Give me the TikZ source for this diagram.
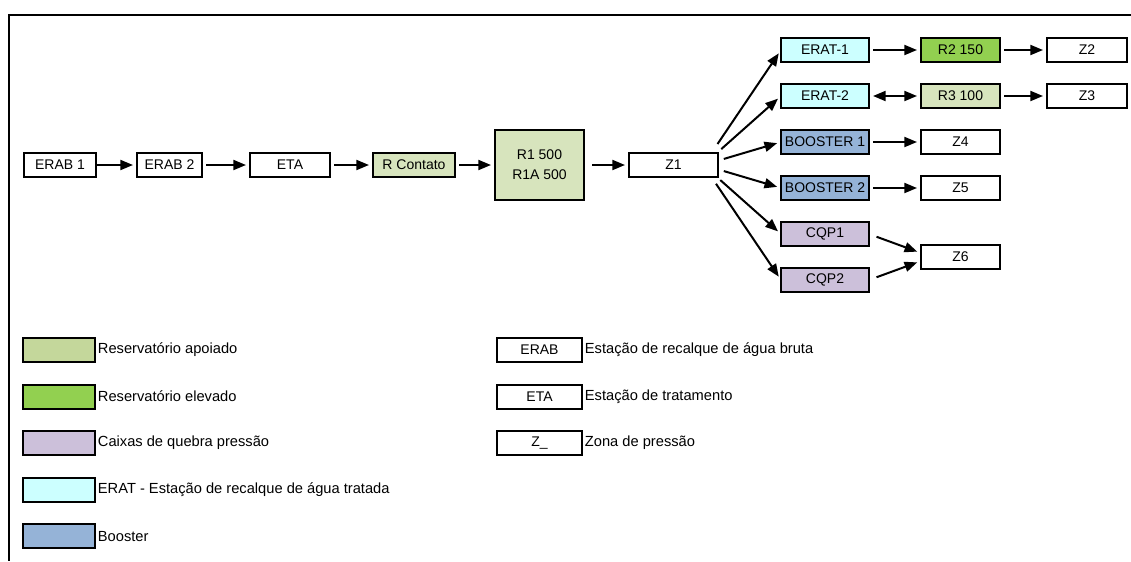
\documentclass[tikz,border=0pt]{standalone}
\usepackage{fontspec}
\setmainfont{Liberation Sans}
\usetikzlibrary{positioning, arrows.meta, calc}

\definecolor{apoiado}{HTML}{D7E4BD}
\definecolor{apoiadokey}{HTML}{C4D79B}
\definecolor{elevado}{HTML}{92D050}
\definecolor{caixa}{HTML}{CCC0DA}
\definecolor{erat}{HTML}{CCFFFF}
\definecolor{booster}{HTML}{95B3D7}

\begin{document}
\begin{tikzpicture}[
  x=0.75pt, y=-0.75pt,
  font=\fontsize{10.5}{15}\selectfont,
  >={Triangle[length=9.5pt, width=7.5pt]},
  unit/.style={draw, line width=1.5pt, align=center, inner sep=0pt, outer sep=0pt,
               minimum height=18pt, minimum width=60pt},
  flow/.style={->, line width=1.5pt, shorten <=3pt, shorten >=3pt},
  key/.style={draw, line width=1.5pt, inner sep=0pt, outer sep=0pt,
              minimum height=18pt, minimum width=54pt},
  keytext/.style={font=\fontsize{11}{13}\selectfont, inner sep=1pt}
]
\useasboundingbox (0,0) rectangle (1131,561);
\draw[line width=1pt] (1131,15) -- (9,15) -- (9,561);

\node[unit, minimum width=54pt] (erab1) at (60,165) {ERAB 1};
\node[unit, minimum width=48.75pt, right=30.75pt of erab1] (erab2) {ERAB 2};
\node[unit, right=36pt of erab2] (eta) {ETA};
\node[unit, fill=apoiado, minimum width=61.5pt, right=32.25pt of eta] (rcontato) {R Contato};
\node[unit, fill=apoiado, minimum width=66.75pt, minimum height=52.5pt, right=30pt of rcontato]
  (r1) {R1 500\\R1A 500};
\node[unit, minimum width=66.75pt, right=33.75pt of r1] (z1) {Z1};

\node[unit, fill=erat, minimum width=66pt] (erat1) at (825,50) {ERAT-1};
\node[unit, fill=erat, minimum width=66pt, below=16.5pt of erat1] (erat2) {ERAT-2};
\node[unit, fill=booster, minimum width=66pt, below=16.5pt of erat2] (booster1) {BOOSTER 1};
\node[unit, fill=booster, minimum width=66pt, below=16.5pt of booster1] (booster2) {BOOSTER 2};
\node[unit, fill=caixa, minimum width=66pt, below=16.5pt of booster2] (cqp1) {CQP1};
\node[unit, fill=caixa, minimum width=66pt, below=16.5pt of cqp1] (cqp2) {CQP2};

\node[unit, fill=elevado, minimum width=59.25pt, right=39pt of erat1] (r2) {R2 150};
\node[unit, right=35.25pt of r2] (z2) {Z2};
\node[unit, fill=apoiado, minimum width=59.25pt, right=39pt of erat2] (r3) {R3 100};
\node[unit, right=35.25pt of r3] (z3) {Z3};
\node[unit, minimum width=59.25pt, right=39pt of booster1] (z4) {Z4};
\node[unit, minimum width=59.25pt, right=39pt of booster2] (z5) {Z5};
\node[unit, minimum width=59.25pt, anchor=west, xshift=39pt]
  (z6) at ($(cqp1.east)!0.5!(cqp2.east)$) {Z6};

\draw[flow, shorten <=0pt] (erab1) -- (erab2);
\draw[flow] (erab2) -- (eta);
\draw[flow] (eta) -- (rcontato);
\draw[flow] (rcontato) -- (r1);
\draw[flow, shorten <=6pt] (r1) -- (z1);
\draw[flow, shorten <=19pt] ([xshift=-11pt]z1.east) -- (erat1.west);
\draw[flow, shorten <=18pt] ([xshift=-11pt]z1.east) -- (erat2.west);
\draw[flow, shorten <=16pt] ([xshift=-11pt]z1.east) -- (booster1.west);
\draw[flow, shorten <=16pt] ([xshift=-11pt]z1.east) -- (booster2.west);
\draw[flow, shorten <=17pt] ([xshift=-11pt]z1.east) -- (cqp1.west);
\draw[flow, shorten <=17pt] ([xshift=-11pt]z1.east) -- (cqp2.west);
\draw[flow] (erat1) -- (r2);
\draw[flow] (r2) -- (z2);
\draw[flow, <->] (erat2) -- (r3);
\draw[flow] (r3) -- (z3);
\draw[flow] (booster1) -- (z4);
\draw[flow] (booster2) -- (z5);
\draw[flow, shorten <=6pt] (cqp1.east) -- ([yshift=3pt]z6.west);
\draw[flow, shorten <=6pt] (cqp2.east) -- ([yshift=-3pt]z6.west);

\node[key, fill=apoiadokey] (kapoiado) at (59,350) {};
\node[key, fill=elevado, below=16.9pt of kapoiado] (kelevado) {};
\node[key, fill=caixa, below=16.9pt of kelevado] (kcaixa) {};
\node[key, fill=erat, below=16.9pt of kcaixa] (kerat) {};
\node[key, fill=booster, below=16.9pt of kerat] (kbooster) {};
\node[keytext, right=1pt of kapoiado] (tapoiado) {Reservatório apoiado};
\node[keytext, right=1pt of kelevado] (televado) {Reservatório elevado};
\node[keytext, right=1pt of kcaixa] (tcaixa) {Caixas de quebra pressão};
\node[keytext, right=1pt of kerat] (terat) {ERAT - Estação de recalque de água tratada};
\node[keytext, right=1pt of kbooster] (tbooster) {Booster};

\node[key, minimum width=63.75pt] (kerab) at (539.5,350) {ERAB};
\node[key, minimum width=63.75pt, below=16.9pt of kerab] (keta) {ETA};
\node[key, minimum width=63.75pt, below=16.9pt of keta] (kzona) {Z\_};
\node[keytext, right=1pt of kerab] (terab) {Estação de recalque de água bruta};
\node[keytext, right=1pt of keta] (teta) {Estação de tratamento};
\node[keytext, right=1pt of kzona] (tzona) {Zona de pressão};
\end{tikzpicture}
\end{document}
